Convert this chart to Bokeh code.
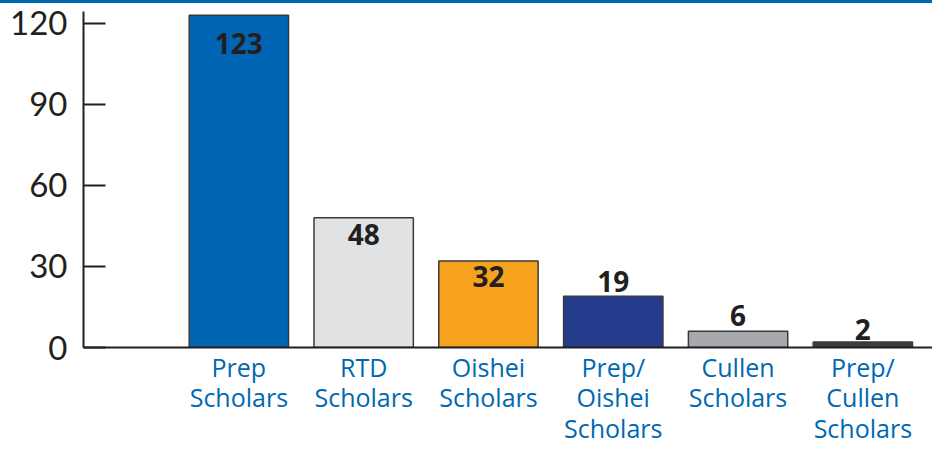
from bokeh.plotting import figure
from bokeh.models import (ColumnDataSource, Range1d, FixedTicker, LabelSet, Div)
from bokeh.core.properties import value
from bokeh.layouts import column
from bokeh.embed import file_html
from bokeh.resources import INLINE

# ---- data ----
categories = ["Prep\nScholars", "RTD\nScholars", "Oishei\nScholars",
              "Prep/\nOishei\nScholars", "Cullen\nScholars", "Prep/\nCullen\nScholars"]
counts = [123, 48, 32, 19, 6, 2]
y_ticks = [0, 30, 60, 90, 120]

# ---- style ----
bar_colors = ["#0066b3", "#e1e2e4", "#f6a21d", "#253c8c", "#a8a9ad", "#3d3d3d"]
label_dy = [-28, -17, -15, 15, 16, 13]   # pixel offset of value labels (up positive)
BLUE = "#0068b3"
INK = "#231f20"

xs = list(range(len(categories)))
src = ColumnDataSource(dict(x=xs, top=counts, color=bar_colors,
                            txt=[str(c) for c in counts], dy=label_dy))

W, H = 932, 444
p = figure(width=W, height=H, output_backend="svg", toolbar_location=None,
           x_range=Range1d(-1.245, 5.558), y_range=Range1d(0, 124.4),
           min_border_left=83, min_border_right=0, min_border_top=8,
           min_border_bottom=92)
p.outline_line_color = None
p.grid.visible = False
p.background_fill_color = "white"
p.border_fill_color = "white"

p.vbar(x="x", top="top", width=0.796, bottom=0, source=src,
       fill_color="color", line_color="#3a3a3a", line_width=1.5)

labels = LabelSet(x="x", y="top", text="txt", y_offset="dy", source=src,
                  text_align="center", text_baseline="middle",
                  text_font=value("Open Sans"), text_font_style="bold",
                  text_font_size="28px", text_color=INK)
p.add_layout(labels)

# y axis
ya = p.yaxis[0]
ya.ticker = FixedTicker(ticks=y_ticks)
ya.axis_line_color = INK
ya.axis_line_width = 2
ya.major_tick_in = 22
ya.major_tick_out = 0
ya.major_tick_line_color = INK
ya.major_tick_line_width = 2
ya.minor_tick_line_color = None
ya.major_label_text_font = "Lato"
ya.major_label_text_font_size = "33px"
ya.major_label_text_color = INK
ya.major_label_standoff = 16

# x axis
xa = p.xaxis[0]
xa.ticker = FixedTicker(ticks=xs)
xa.major_label_overrides = {i: c for i, c in zip(xs, categories)}
xa.axis_line_color = INK
xa.axis_line_width = 2
xa.major_tick_in = 0
xa.major_tick_out = 0
xa.minor_tick_line_color = None
xa.major_label_text_font = "Open Sans"
xa.major_label_text_font_size = "25px"
xa.major_label_text_line_height = 0.9
xa.major_label_text_color = BLUE
xa.major_label_standoff = 2

top_bar = Div(text="", width=W, height=3, margin=(0, 0, 0, 0),
              styles={"background-color": "#0067b1"})
layout = column(top_bar, p, spacing=0)

open("out.html", "w").write(file_html(layout, INLINE))
